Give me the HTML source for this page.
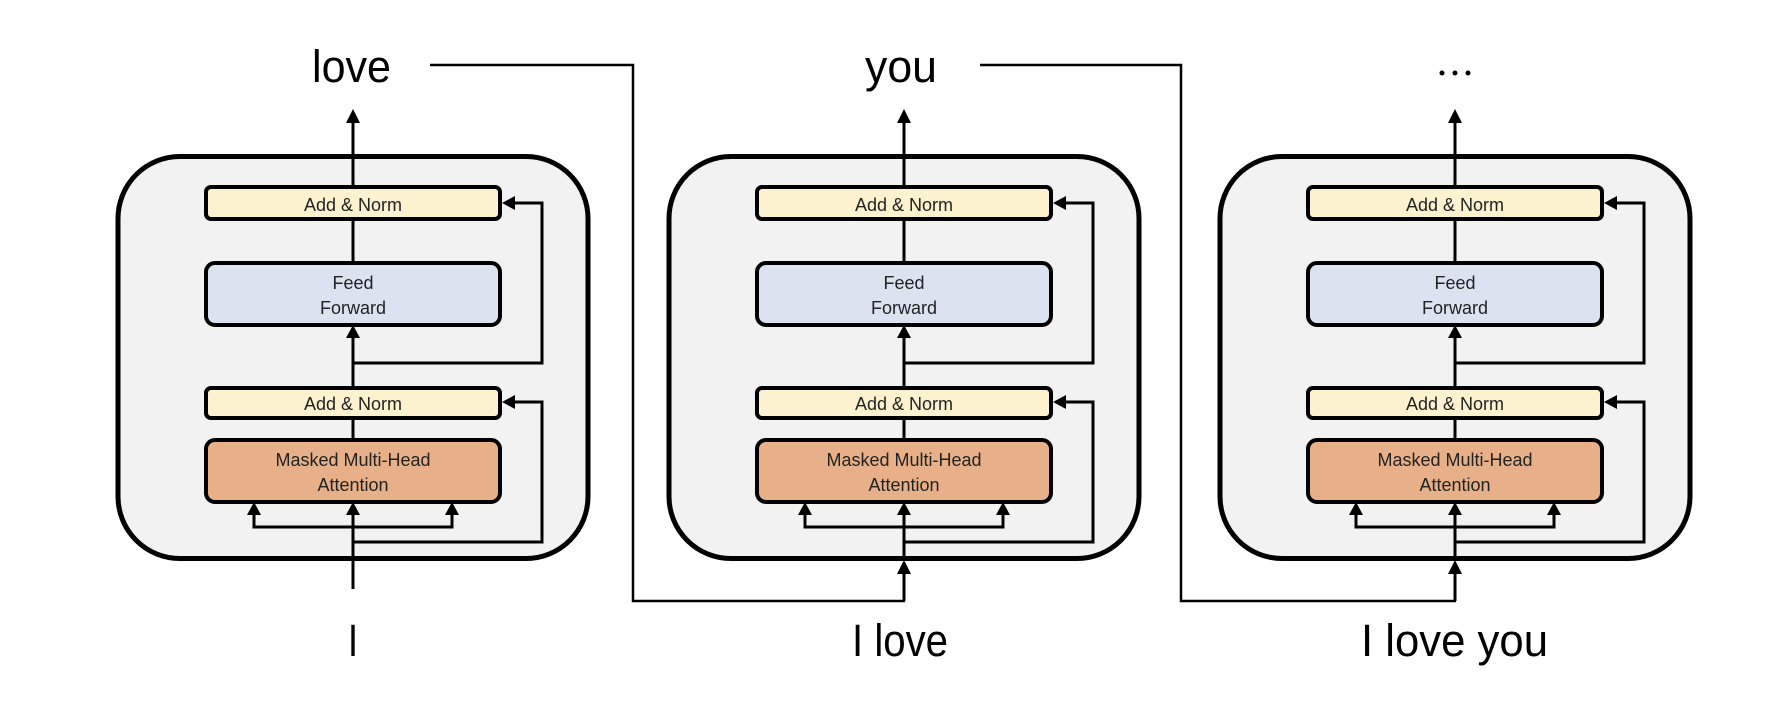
<!DOCTYPE html>
<html><head><meta charset="utf-8"><style>html,body{margin:0;padding:0;background:#fff}svg{display:block}</style></head>
<body>
<svg width="1774" height="710" viewBox="0 0 1774 710" xmlns="http://www.w3.org/2000/svg">
<defs>
<g id="blk">
  <rect x="-235" y="156.5" width="470" height="402" rx="62" fill="#f2f2f2" stroke="#000" stroke-width="5"/>
  <!-- main vertical -->
  <line x1="0" y1="120" x2="0" y2="185" stroke="#000" stroke-width="3"/>
  <polygon points="0,109 -7,123 7,123" fill="#000"/>
  <line x1="0" y1="221" x2="0" y2="261" stroke="#000" stroke-width="3"/>
  <line x1="0" y1="336" x2="0" y2="386" stroke="#000" stroke-width="3"/>
  <polygon points="0,325 -7,338 7,338" fill="#000"/>
  <line x1="0" y1="418" x2="0" y2="438" stroke="#000" stroke-width="3"/>
  <line x1="0" y1="513" x2="0" y2="561" stroke="#000" stroke-width="3"/>
  <polygon points="0,502 -7,515 7,515" fill="#000"/>
  <!-- attention branches -->
  <polyline points="-99,513 -99,527 99,527 99,513" fill="none" stroke="#000" stroke-width="3"/>
  <polygon points="-99,502 -106,515 -92,515" fill="#000"/>
  <polygon points="99,502 92,515 106,515" fill="#000"/>
  <!-- residuals -->
  <polyline points="0,363 189,363 189,203 160,203" fill="none" stroke="#000" stroke-width="3"/>
  <polygon points="149,203 162,196 162,210" fill="#000"/>
  <polyline points="0,542 189,542 189,402 160,402" fill="none" stroke="#000" stroke-width="3"/>
  <polygon points="149,402 162,395 162,409" fill="#000"/>
  <!-- boxes -->
  <rect x="-147" y="187" width="294" height="32" rx="5" fill="#fdf2d0" stroke="#000" stroke-width="4"/>
  <rect x="-147" y="263" width="294" height="62" rx="9" fill="#dbe3f0" stroke="#000" stroke-width="4"/>
  <rect x="-147" y="388" width="294" height="30" rx="5" fill="#fdf2d0" stroke="#000" stroke-width="4"/>
  <rect x="-147" y="440" width="294" height="62" rx="9" fill="#e8b088" stroke="#000" stroke-width="4"/>
  <g font-family="Liberation Sans, sans-serif" font-size="18" fill="#222" text-anchor="middle">
    <text x="0" y="211">Add &amp; Norm</text>
    <text x="0" y="289">Feed</text>
    <text x="0" y="314">Forward</text>
    <text x="0" y="410">Add &amp; Norm</text>
    <text x="0" y="466">Masked Multi-Head</text>
    <text x="0" y="491">Attention</text>
  </g>
</g>
</defs>
<use href="#blk" x="353" y="0"/>
<use href="#blk" x="904" y="0"/>
<use href="#blk" x="1455" y="0"/>
<!-- input line box1 -->
<line x1="353" y1="561" x2="353" y2="589" stroke="#000" stroke-width="3"/>
<!-- entry arrows boxes 2,3 -->
<polygon points="904,560 897,574 911,574" fill="#000"/>
<line x1="904" y1="572" x2="904" y2="601" stroke="#000" stroke-width="3"/>
<polygon points="1455,560 1448,574 1462,574" fill="#000"/>
<line x1="1455" y1="572" x2="1455" y2="601" stroke="#000" stroke-width="3"/>
<!-- feedback connectors -->
<polyline points="430,65 633,65 633,601 905,601" fill="none" stroke="#000" stroke-width="2.5"/>
<polyline points="980,65 1181,65 1181,601 1456,601" fill="none" stroke="#000" stroke-width="2.5"/>
<!-- words -->
<g font-family="Liberation Sans, sans-serif" font-size="45" fill="#000">
  <text x="312" y="82" textLength="79" lengthAdjust="spacingAndGlyphs">love</text>
  <text x="865" y="82" textLength="72" lengthAdjust="spacingAndGlyphs">you</text>
  <text x="348" y="656" textLength="10" lengthAdjust="spacingAndGlyphs">I</text>
  <text x="852" y="656" textLength="96" lengthAdjust="spacingAndGlyphs">I love</text>
  <text x="1361" y="656" textLength="187" lengthAdjust="spacingAndGlyphs">I love you</text>
</g>
<circle cx="1442" cy="73" r="2.5" fill="#000"/>
<circle cx="1455" cy="73" r="2.5" fill="#000"/>
<circle cx="1468" cy="73" r="2.5" fill="#000"/>
</svg>
</body></html>
